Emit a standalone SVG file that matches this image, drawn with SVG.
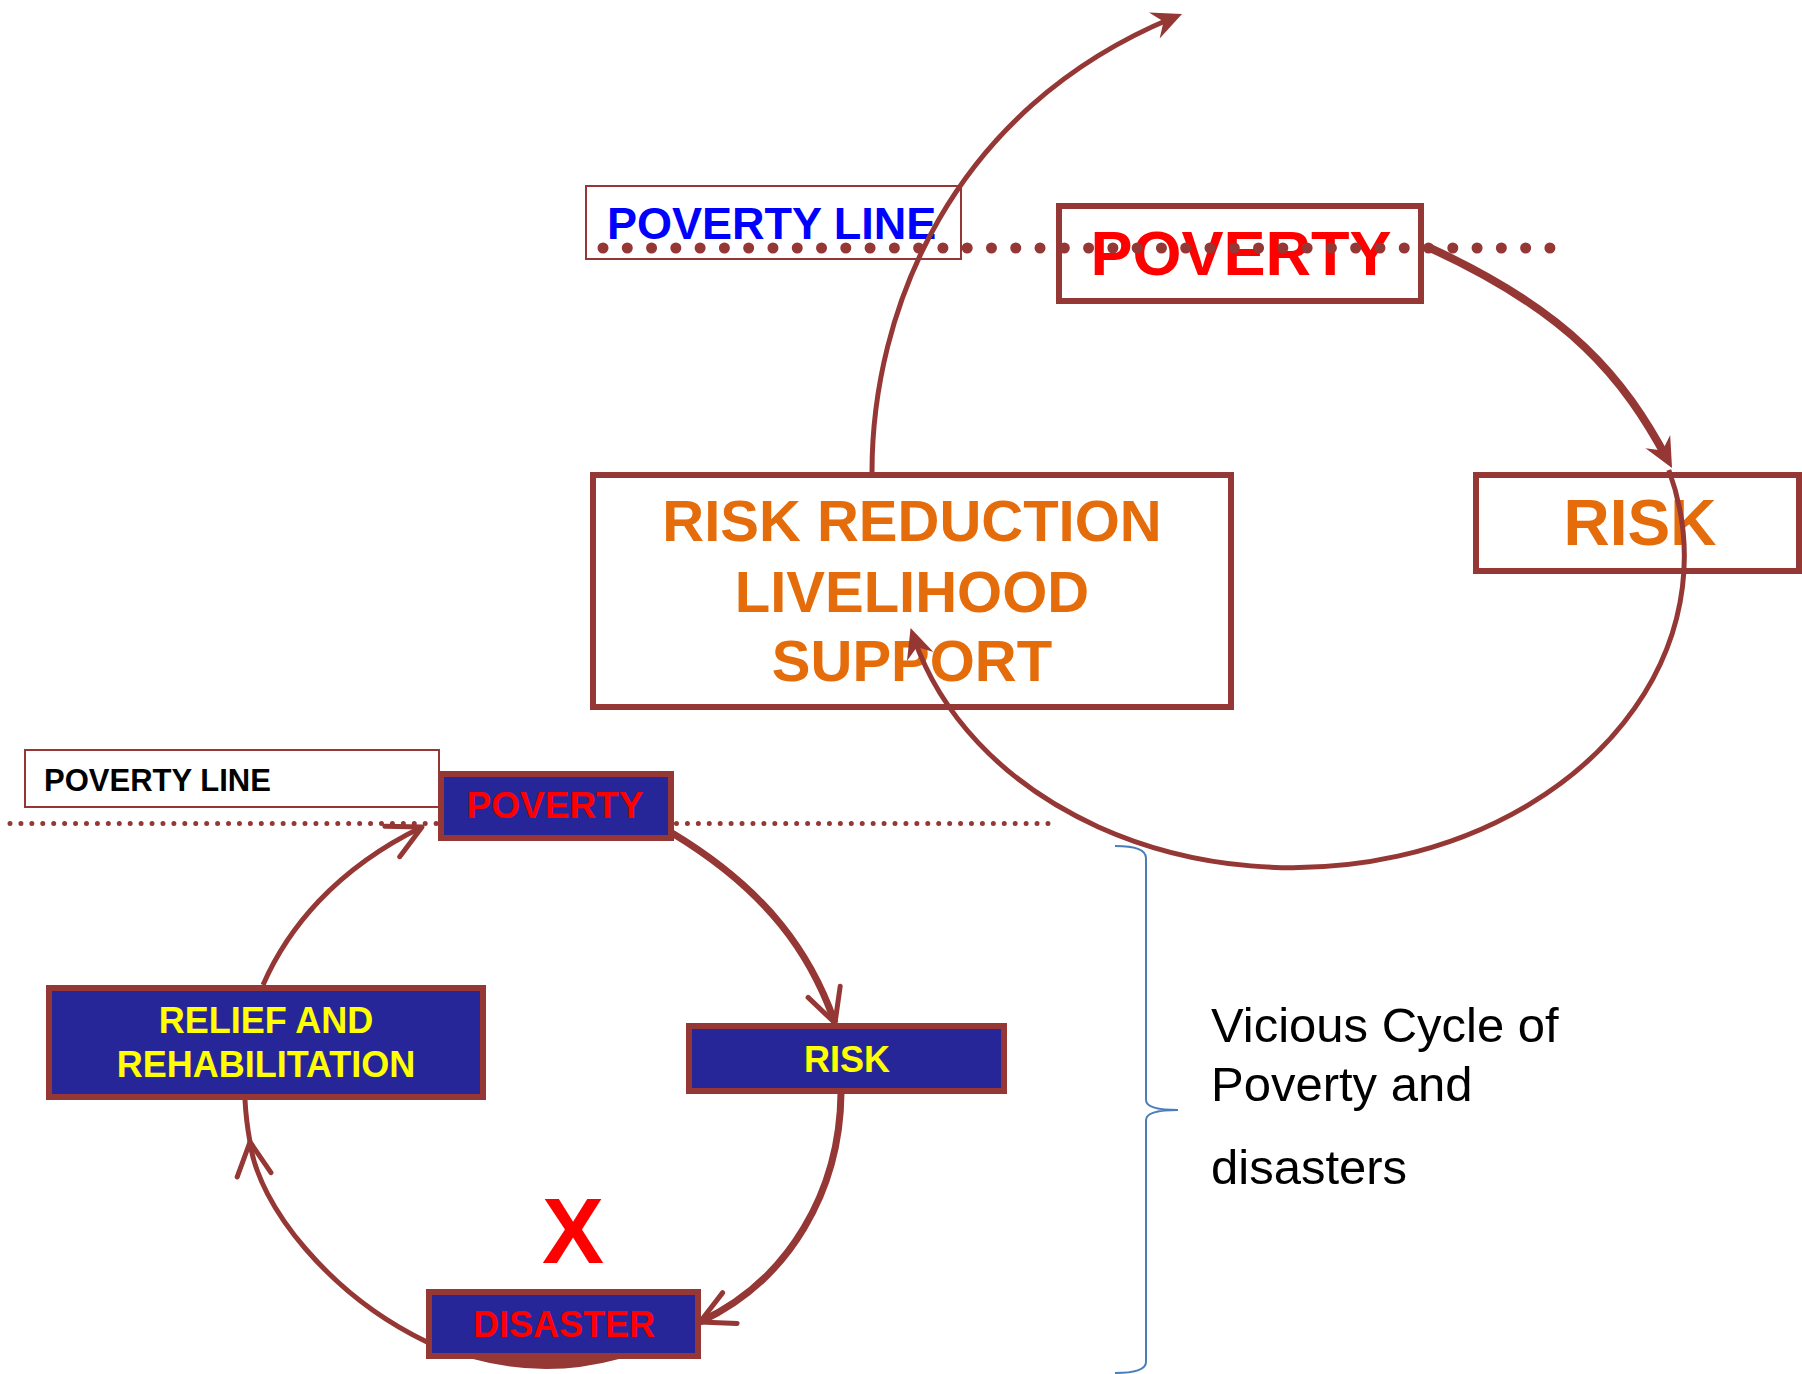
<svg xmlns="http://www.w3.org/2000/svg" width="1802" height="1374" viewBox="0 0 1802 1374">
<defs>
<style>
.box{fill:#ffffff;stroke:#953735;stroke-width:6}
.nbox{fill:#262699;stroke:#953735;stroke-width:6}
.lbox{fill:#ffffff;stroke:#953735;stroke-width:2}
.t{font-family:"Liberation Sans",Arial,sans-serif;font-weight:bold}
.c{text-anchor:middle}
.conn{fill:none;stroke:#953735}
.dots{fill:none;stroke:#953735;stroke-linecap:round}
</style>
<marker id="stealth" markerUnits="userSpaceOnUse" orient="auto" viewBox="-30 -20 50 40" markerWidth="50" markerHeight="40" refX="0" refY="0">
<path d="M10,0 L-20,-14 L-10,0 L-20,14 Z" fill="#953735"/>
</marker>
<marker id="vee" markerUnits="userSpaceOnUse" orient="auto" viewBox="-40 -24 50 48" markerWidth="50" markerHeight="48" refX="0" refY="0">
<path d="M-33,-17 L0,0 L-33,17" fill="none" stroke="#953735" stroke-width="5" stroke-linecap="round" stroke-linejoin="round"/>
</marker>
</defs>
<rect width="1802" height="1374" fill="#ffffff"/>

<!-- lower poverty line (behind nodes) -->
<line class="dots" x1="10" y1="823.5" x2="1049" y2="823.5" stroke-width="5" stroke-dasharray="0 10.926"/>

<g id="nodes">
<g id="top-poverty-line">
<rect class="lbox" x="586" y="186" width="375" height="73"/>
<text class="t" x="607" y="239" font-size="45" fill="#0000ff">POVERTY LINE</text>
</g>
<g id="top-poverty">
<rect class="box" x="1059" y="206" width="362" height="95"/>
<text class="t c" x="1241" y="275" font-size="63" fill="#ff0000">POVERTY</text>
</g>
<g id="top-risk">
<rect class="box" x="1476" y="475" width="323" height="96"/>
<text class="t c" x="1640" y="545" font-size="64" fill="#e46c0a">RISK</text>
</g>
<g id="top-risk-reduction">
<rect class="box" x="593" y="475" width="638" height="232"/>
<text class="t c" font-size="58" fill="#e46c0a"><tspan x="912" y="541">RISK REDUCTION</tspan><tspan x="912" y="612">LIVELIHOOD</tspan><tspan x="912" y="681">SUPPORT</tspan></text>
</g>
<g id="bottom-poverty-line">
<rect class="lbox" x="25" y="750" width="414" height="57"/>
<text class="t" x="44" y="791" font-size="31" fill="#000000">POVERTY LINE</text>
</g>
<g id="bottom-poverty">
<rect class="nbox" x="441" y="774" width="230" height="64"/>
<text class="t c" x="555" y="818" font-size="37" fill="#ff0000">POVERTY</text>
</g>
<g id="bottom-risk">
<rect class="nbox" x="689" y="1026" width="315" height="65"/>
<text class="t c" x="847" y="1072" font-size="36" fill="#ffff00">RISK</text>
</g>
<g id="bottom-relief">
<rect class="nbox" x="49" y="988" width="434" height="109"/>
<text class="t c" font-size="36" fill="#ffff00"><tspan x="266" y="1033">RELIEF AND</tspan><tspan x="266" y="1077">REHABILITATION</tspan></text>
</g>
<g id="bottom-disaster">
<rect class="nbox" x="429" y="1292" width="269" height="64"/>
<text class="t c" x="564" y="1337" font-size="36" fill="#ff0000">DISASTER</text>
</g>
<g id="cross">
<text class="t c" x="573" y="1263" font-size="93" fill="#ff0000">X</text>
</g>
<g id="caption">
<path d="M1115 846 Q1146 846 1146 858 L1146 1100 Q1146 1110 1178 1110 Q1146 1110 1146 1120 L1146 1362 Q1146 1373 1115 1373" fill="none" stroke="#4a7ebb" stroke-width="2"/>
<text font-family="'Liberation Sans',Arial,sans-serif" font-size="49" fill="#000000"><tspan x="1211" y="1042">Vicious Cycle of</tspan><tspan x="1211" y="1101">Poverty and</tspan><tspan x="1211" y="1184">disasters</tspan></text>
</g>
</g>

<!-- upper poverty line (over nodes) -->
<line class="dots" x1="603" y1="248" x2="1551" y2="248" stroke-width="11" stroke-dasharray="0 24.28"/>

<g id="connectors">
<!-- top cycle -->
<path class="conn" stroke-width="8" d="M1430 248 C1570 312 1623.6 377.8 1667.3 459.2" marker-end="url(#stealth)"/>
<path class="conn" stroke-width="5" d="M1668.8 470 A392 311 0 1 1 913.8 637.5" marker-end="url(#stealth)"/>
<path class="conn" stroke-width="5" d="M872 472 C872 312 950 110 1172.8 17.8" marker-end="url(#stealth)"/>
<!-- bottom cycle -->
<path class="conn" stroke-width="7" d="M672 833 C770 892 812 957 835 1023" marker-end="url(#vee)"/>
<path class="conn" stroke-width="7" d="M841 1093 C840 1190 790 1280 700 1322" marker-end="url(#vee)"/>
<path class="conn" stroke-width="5" d="M427 1342 C331 1296 258 1206 250 1142" marker-end="url(#vee)"/>
<path class="conn" stroke-width="5" d="M250 1142 Q246 1120 245 1100"/>
<path class="conn" stroke-width="5" d="M263 985 C287 930 334.5 869.5 422 827" marker-end="url(#vee)"/>
<path d="M473 1359 Q546 1379 619 1359 Z" fill="#953735"/>
</g>
</svg>
